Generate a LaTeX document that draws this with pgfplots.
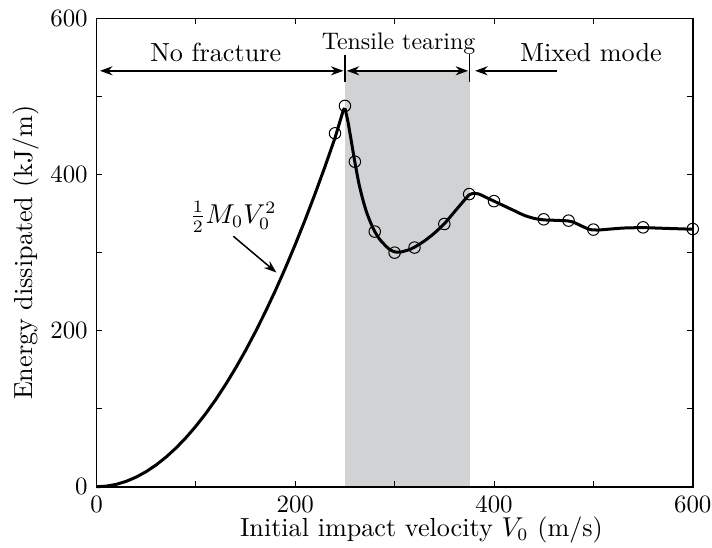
\documentclass[border=0pt]{standalone}
\usepackage{pgfplots}
\pgfplotsset{compat=1.18}
\usetikzlibrary{arrows.meta}
\definecolor{bandgray}{RGB}{209,210,212}
\begin{document}
\begin{tikzpicture}
\useasboundingbox (-38.6bp,-24.5bp) rectangle (246.2bp,194.7bp);
\begin{axis}[
  scale only axis, width=238.5bp, height=187.3bp,
  xmin=0, xmax=600, ymin=0, ymax=600,
  xtick={0,100,...,600}, xticklabels={0,,200,,400,,600},
  ytick={0,100,...,600}, yticklabels={0,,200,,400,,600},
  tick align=inside, major tick length=2.2bp,
  tick style={black, line width=0.4bp},
  axis line style={line width=0.6bp},
  ticklabel style={font=\fontsize{10}{11}\selectfont},
  xlabel={Initial impact velocity $V_0$ (m/s)},
  ylabel={Energy dissipated (kJ/m)},
  xlabel style={font=\fontsize{10.5}{12}\selectfont, at={(axis description cs:0.545,-0.093)}, anchor=center},
  ylabel style={font=\fontsize{10.5}{12}\selectfont, at={(axis description cs:-0.118,0.5)}, anchor=center},
  clip=false,
  axis on top,
]
\fill[bandgray] (axis cs:250,0) rectangle (axis cs:375.5,533);
% parabola part
\addplot[black, line width=1.2bp, line join=round] coordinates {
(0,0) (10,0.78) (20,3.10) (30,6.98) (40,12.42) (50,19.40) (60,27.94) (70,38.02)
(80,49.66) (90,62.86) (100,77.6) (110,93.9) (120,111.7) (130,131.2) (140,152.1)
(150,174.6) (160,198.7) (170,224.3) (180,251.4) (190,280.1) (200,310.4) (210,342.2)
(220,375.6) (230,410.5) (240,447.0) (248.5,483) (250,485)
};
% post-peak part
\addplot[black, line width=1.2bp, line join=round, smooth, tension=0.4] coordinates {
(250,485) (253,468) (256,446) (260,416) (264,389) (268,368) (272,351) (276,338)
(280,327) (285,317) (290,310) (295,304) (300,301) (305,300.5) (310,302) (315,304)
(320,307) (330,315) (340,325) (350,337) (360,352) (368,364) (375,374) (380,376)
(385,375) (390,372) (400,366) (410,360) (420,354) (430,348) (440,344) (450,342)
(460,341.5) (470,341) (475,340.5) (480,339) (490,333) (497,329.5) (505,329)
(515,330) (530,331.5) (550,332) (575,331) (600,330)
};
% measured points
\addplot[only marks, mark=o, mark size=2.3bp, mark options={black, line width=0.4bp}] coordinates {
(240,452.9) (250,488) (260,416.5) (280,327) (300,300) (320,306.5) (350,336.7)
(375,375) (400,366) (450,342.7) (475,341) (500,329.5) (550,332.4) (600,330.3)
};
% region arrows
\draw[line width=0.7bp, {Stealth[length=5bp,width=3.6bp]}-{Stealth[length=5bp,width=3.6bp]}] (axis cs:3.5,533) -- (axis cs:248.5,533);
\draw[line width=0.7bp, {Stealth[length=5bp,width=3.6bp]}-{Stealth[length=5bp,width=3.6bp]}] (axis cs:251.8,533) -- (axis cs:374,533);
\draw[line width=0.7bp, {Stealth[length=5bp,width=3.6bp]}-] (axis cs:381,533) -- (axis cs:463,533);
\draw[line width=0.5bp] (axis cs:250,519) -- (axis cs:250,553);
\draw[line width=0.5bp] (axis cs:375.5,519) -- (axis cs:375.5,555);
\node[anchor=base, font=\fontsize{10.5}{12}\selectfont, inner sep=0pt] at (axis cs:120,545) {No fracture};
\node[anchor=base, font=\fontsize{9.6}{11}\selectfont, inner sep=0pt] at (axis cs:304,560) {Tensile tearing};
\node[anchor=base, font=\fontsize{10.5}{12}\selectfont, inner sep=0pt] at (axis cs:497.5,545) {Mixed mode};
% annotation
\node[font=\fontsize{10.5}{12}\selectfont, inner sep=0pt] at (axis cs:137.5,346) {$\frac{1}{2}M_0V_0^2$};
\draw[line width=0.6bp, -{Stealth[length=5bp,width=3.6bp]}] (axis cs:137.7,321) -- (axis cs:181,274.5);
\end{axis}
\end{tikzpicture}
\end{document}
